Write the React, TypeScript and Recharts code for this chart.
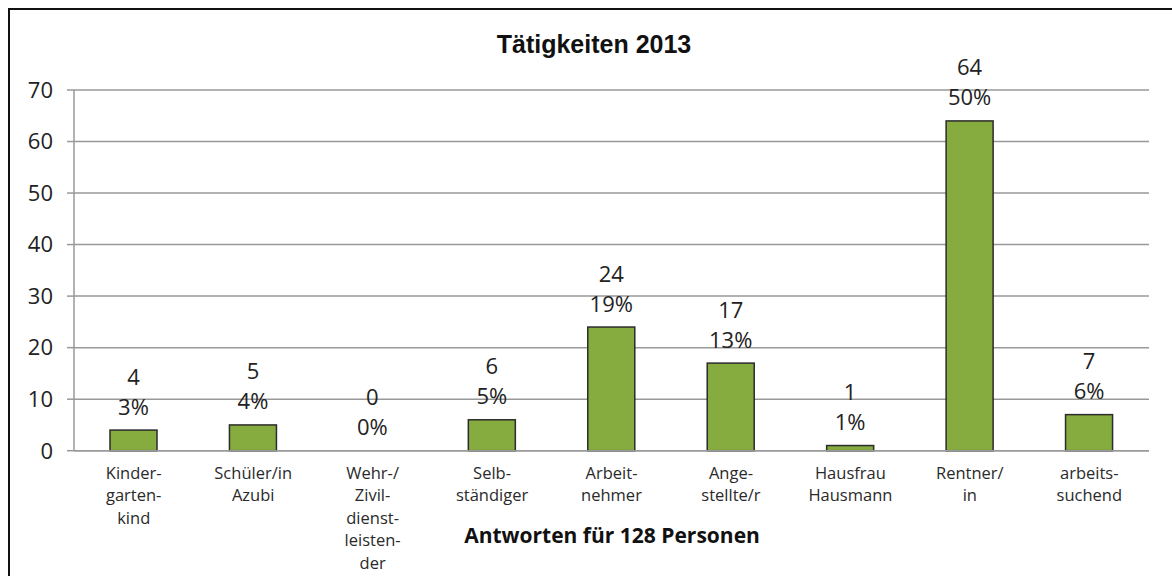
import React from 'react';
import { BarChart, Bar, XAxis, YAxis, CartesianGrid, LabelList } from 'recharts';

const categories = [
  'Kinder-\ngarten-\nkind',
  'Schüler/in\nAzubi',
  'Wehr-/\nZivil-\ndienst-\nleisten-\nder',
  'Selb-\nständiger',
  'Arbeit-\nnehmer',
  'Ange-\nstellte/r',
  'Hausfrau\nHausmann',
  'Rentner/\nin',
  'arbeits-\nsuchend',
];
const counts = [4, 5, 0, 6, 24, 17, 1, 64, 7];
const percents = [3, 4, 0, 5, 19, 13, 1, 50, 6];
const yTicks = [0, 10, 20, 30, 40, 50, 60, 70];
const chartTitle = 'Tätigkeiten 2013';
const xTitle = 'Antworten für 128 Personen';

const data = categories.map((name, i) => ({
  name,
  value: counts[i],
  pct: `${percents[i]}%`,
}));

const FONT = "'Open Sans', 'Noto Sans', sans-serif";

const CategoryTick = (props: any) => {
  const { x, y, payload } = props;
  const lines = String(payload.value).split('\n');
  return (
    <text x={x} y={y + 20} textAnchor="middle" fontFamily={FONT} fontSize={16.5} fill="#2a2a2a">
      {lines.map((l, i) => (
        <tspan key={i} x={x} dy={i === 0 ? 0 : 22.5}>
          {l}
        </tspan>
      ))}
    </text>
  );
};

const makeLabel = (offset: number) => (props: any) => {
  const { x, y, width, height, value } = props;
  const top = Number(y) + (Number(height) <= 1.5 ? Number(height) : 0);
  return (
    <text
      x={Number(x) + Number(width) / 2}
      y={top - offset}
      textAnchor="middle"
      fontFamily={FONT}
      fontSize={22}
      fill="#222"
    >
      {value}
    </text>
  );
};

const BarShape = (props: any) => {
  const { x, y, width, height, payload } = props;
  if (!payload || !(payload.value > 0)) return <g />;
  return (
    <rect
      x={x}
      y={y}
      width={width}
      height={height}
      fill="#86AC3F"
      stroke="#2b2b2b"
      strokeWidth={1.5}
    />
  );
};

export default function App() {
  return (
    <div
      style={{
        position: 'fixed',
        left: 0,
        top: 0,
        width: 1172,
        height: 576,
        background: '#fff',
        overflow: 'hidden',
      }}
    >
      <div
        style={{
          position: 'absolute',
          left: 8,
          top: 8,
          width: 1200,
          height: 620,
          borderTop: '2px solid #111',
          borderLeft: '2px solid #111',
        }}
      />
      <div style={{ position: 'absolute', left: 0, top: 0 }}>
        <BarChart
          width={1172}
          height={576}
          data={data}
          margin={{ top: 90, right: 23, bottom: 0, left: 0 }}
        >
          <CartesianGrid vertical={false} stroke="#999" strokeWidth={1.5} />
          <YAxis
            width={74}
            domain={[0, 70]}
            ticks={yTicks}
            interval={0}
            axisLine={{ stroke: '#999', strokeWidth: 1.5 }}
            tickLine={{ stroke: '#999', strokeWidth: 1.5 }}
            tickSize={7}
            tickMargin={14}
            tick={{ fontFamily: FONT, fontSize: 22, fill: '#222' }}
          />
          <XAxis
            dataKey="name"
            height={125.3}
            interval={0}
            axisLine={{ stroke: '#999', strokeWidth: 1.5 }}
            tickLine={false}
            tickSize={6}
            tickMargin={2}
            tick={<CategoryTick />}
          />
          <Bar
            dataKey="value"
            barSize={47}
            minPointSize={1}
            fill="#86AC3F"
            stroke="#2b2b2b"
            strokeWidth={1.5}
            shape={<BarShape />}
            isAnimationActive={false}
          >
            <LabelList dataKey="value" content={makeLabel(45.5)} />
            <LabelList dataKey="pct" content={makeLabel(15.5)} />
          </Bar>
        </BarChart>
      </div>
      <svg
        width={1172}
        height={576}
        style={{ position: 'absolute', left: 0, top: 0, pointerEvents: 'none' }}
      >
        <text
          x={594}
          y={53}
          textAnchor="middle"
          fontFamily="'Liberation Sans', Arial, sans-serif"
          fontWeight="bold"
          fontSize={25}
          fill="#111"
        >
          {chartTitle}
        </text>
        <text
          x={612}
          y={543}
          textAnchor="middle"
          fontFamily={FONT}
          fontWeight="bold"
          fontSize={21}
          fill="#111"
        >
          {xTitle}
        </text>
      </svg>
    </div>
  );
}
